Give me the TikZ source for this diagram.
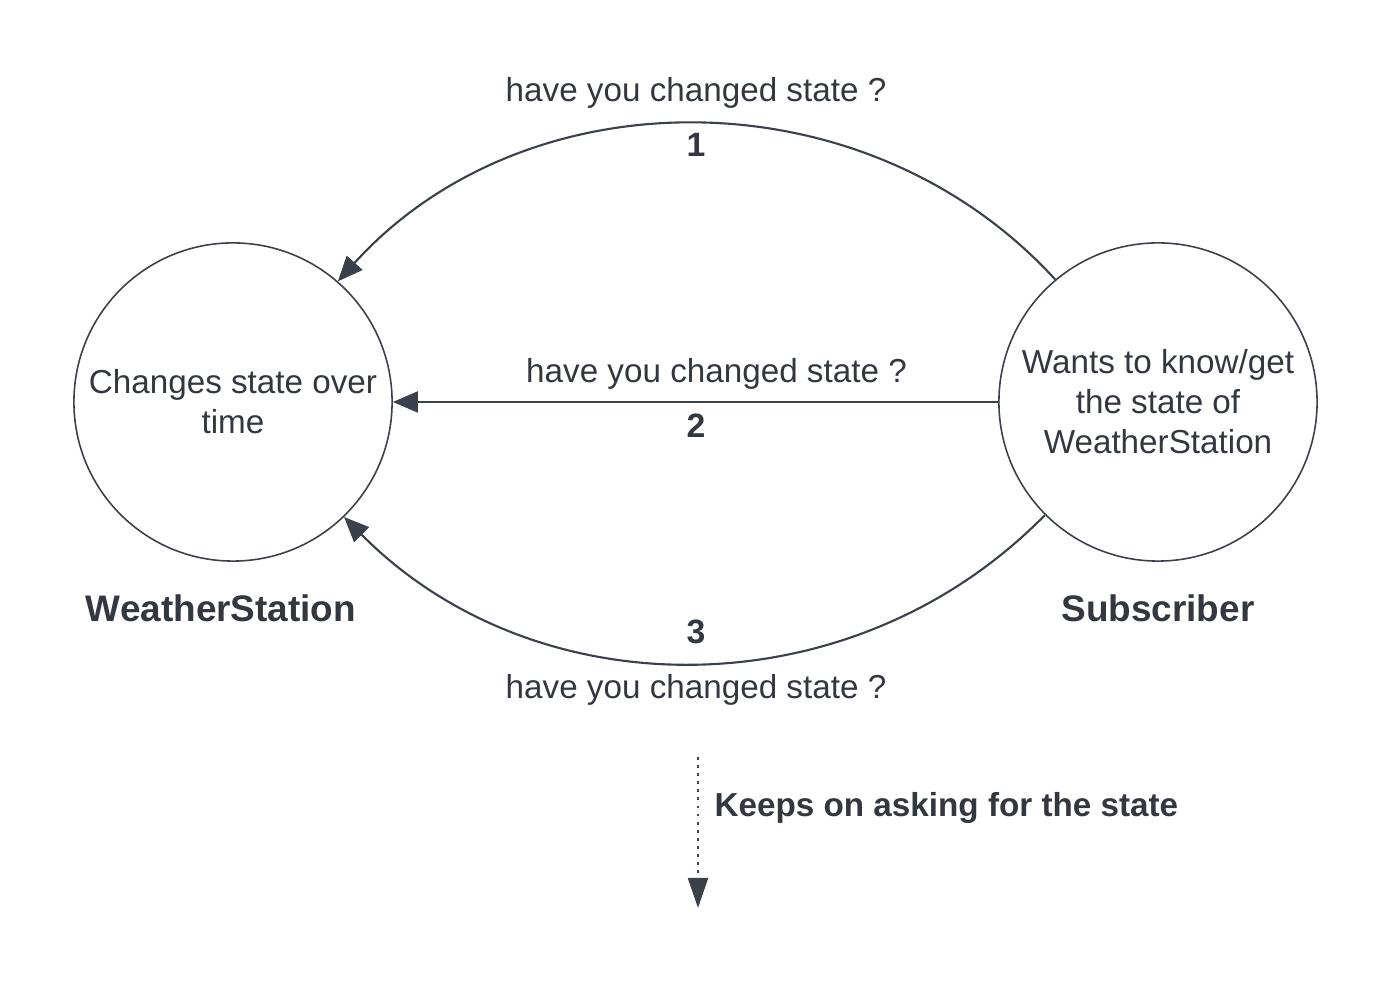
\documentclass[tikz,border=0pt]{standalone}
\usepackage{fontspec}
\setmainfont{Liberation Sans}
\usetikzlibrary{arrows.meta}
\definecolor{ink}{RGB}{58,65,74}
\definecolor{txt}{RGB}{51,56,64}
\begin{document}
\begin{tikzpicture}[x=0.01cm,y=0.01cm,
  every node/.style={text=txt,font=\fontsize{9.45pt}{11.4pt}\selectfont},
  actor/.style={circle,draw=ink,line width=0.45pt,minimum size=3.18cm,inner sep=0pt,align=center},
  bigname/.style={font=\fontsize{10.5pt}{12pt}\selectfont\bfseries},
  num/.style={font=\fontsize{9.6pt}{11pt}\selectfont\bfseries},
  conn/.style={draw=ink,line width=0.6pt,-{Triangle[length=0.25cm,width=0.21cm]}},
  lbl/.style={}]
\useasboundingbox (0,0) rectangle (1393,-983);
\node[actor] (ws) at (233,-402) {Changes state over\\time};
\node[actor] (sub) at (1158,-402) {Wants to know/get\\the state of\\WeatherStation};
\node[bigname] (wsname) at (221,-608) {WeatherStation};
\node[bigname] (subname) at (1158,-608) {Subscriber};
% connector 1
\draw[conn] (sub.130.7) to[bend right=47.7] (ws.49.2);
\node[lbl] (q1) at (696,-93) {have you changed state ?};
\node[num] (n1) at (696,-145) {1};
% connector 2
\draw[conn] (sub.west) -- (ws.east);
\node[lbl] (q2) at (716.5,-374) {have you changed state ?};
\node[num] (n2) at (696,-426) {2};
% connector 3
\draw[conn] (sub.225.5) to[bend left=45.4] (ws.314.8);
\node[num] (n3) at (696,-632) {3};
\node[lbl] (q3) at (696,-690) {have you changed state ?};
% keeps on asking
\coordinate (ks) at (698,-757);
\coordinate (ke) at (698,-908);
\draw[draw=ink,line width=0.6pt,dash pattern=on 0.8pt off 1.5pt,-{Triangle[length=0.30cm,width=0.20cm]}] (ks) -- (ke);
\node[font=\fontsize{9.45pt}{11.4pt}\selectfont\bfseries,anchor=west,inner sep=0pt] (keep) at (714,-808) {Keeps on asking for the state};
\end{tikzpicture}
\end{document}
